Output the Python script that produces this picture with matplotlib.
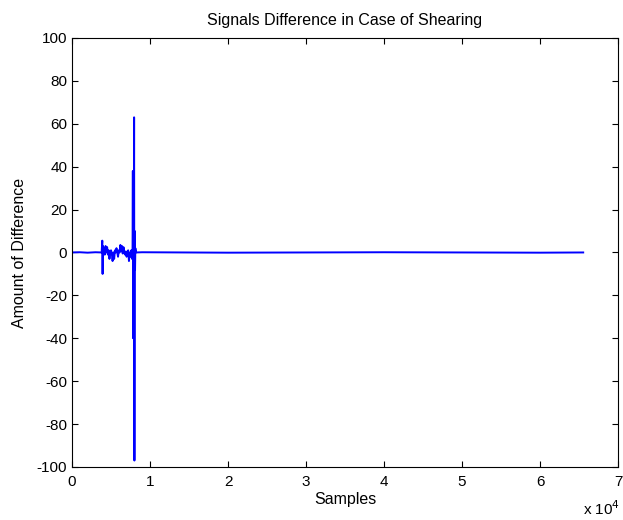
import matplotlib
matplotlib.use("Agg")
import matplotlib.pyplot as plt
import numpy as np

plt.rcParams['font.family'] = ['Liberation Sans', 'DejaVu Sans']
plt.rcParams['axes.unicode_minus'] = False

# Sample indices and difference values (sparse key points)
samples = [0, 1000, 2000, 3000, 3800, 3880, 3920, 3960, 4000, 4100, 4200, 4300, 4400, 4500,
           4600, 4700, 4800, 4900, 5000, 5100, 5200, 5300, 5400, 5500, 5600, 5700,
           5800, 5900, 6000, 6100, 6200, 6300, 6400, 6500, 6600, 6700, 6800, 6900,
           7000, 7100, 7200, 7300, 7400, 7500, 7600, 7700, 7760, 7800, 7840, 7880,
           7920, 7960, 8000, 8040, 8080, 8120, 8200, 9000, 20000, 40000, 60000, 65536]
values = [0, 0.1, -0.1, 0.1, 0, 5.5, -10, 3, 0, 2, -1, 3, 0, 2.5, -1, 1, -3, 0, 1, -0.5, -4, 0, -3, 1,
          0, 2, 0, -2, 1, 0, 3.5, 0.5, 3, -0.5, 2.5, 0, -1, 0.5, -2, 0, 1, -4, 0, -2, 1, -3,
          0, 38, -40, 20, -20, 63, -97, 10, -8, 2, 0, 0.1, -0.1, 0.1, -0.1, 0]

xticks = [0, 10000, 20000, 30000, 40000, 50000, 60000, 70000]
xticklabels = ['0', '1', '2', '3', '4', '5', '6', '7']
yticks = [-100, -80, -60, -40, -20, 0, 20, 40, 60, 80, 100]

fig = plt.figure(figsize=(6.23, 5.2), dpi=100)
ax = fig.add_axes([0.1156, 0.102, 0.8764, 0.825])
ax.plot(samples, values, color='#0000ff', linewidth=1.4)
ax.set_xlim(0, 70000)
ax.set_ylim(-100, 100)
ax.set_xticks(xticks)
ax.set_xticklabels(xticklabels)
ax.set_yticks(yticks)
ax.tick_params(direction='in', top=True, right=True, labelsize=11, length=4, width=0.8)
ax.tick_params(axis='x', pad=6)
ax.tick_params(axis='y', pad=3.5)
for s in ax.spines.values():
    s.set_linewidth(0.8)
ax.set_title('Signals Difference in Case of Shearing', fontsize=11.5, pad=9)
ax.set_xlabel('Samples', fontsize=11.5, labelpad=2)
ax.set_ylabel('Amount of Difference', fontsize=11.5, labelpad=7)
fig.text(0.936, 0.004, r'x 10$^{4}$', fontsize=11, ha='left', va='bottom')
fig.savefig('out.png', dpi=100)
